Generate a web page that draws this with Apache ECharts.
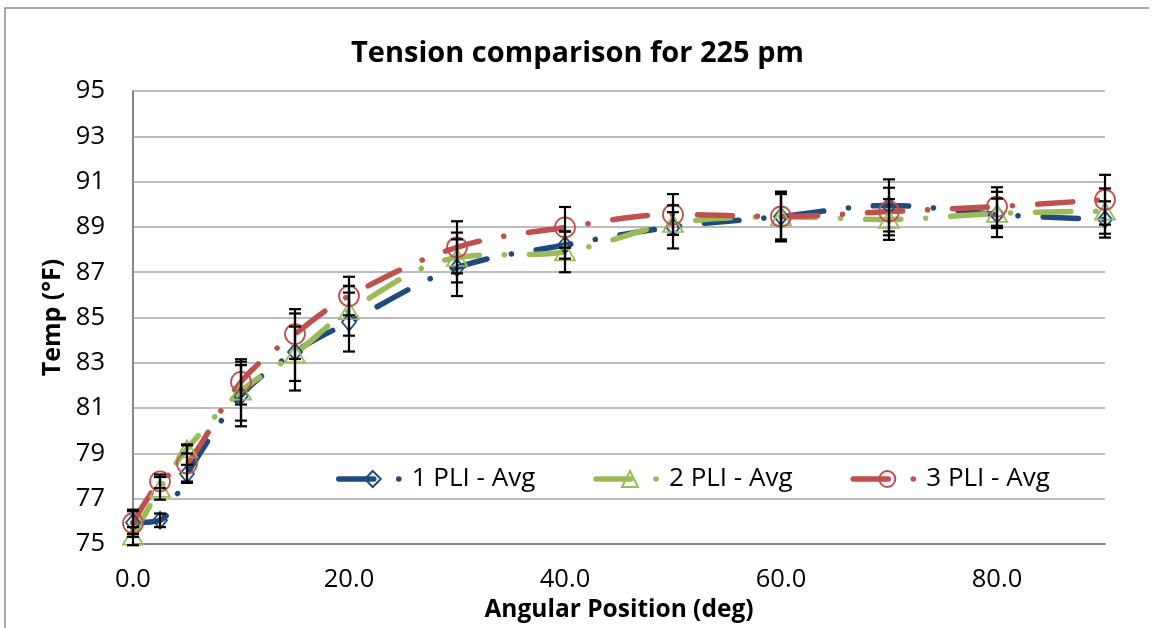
<!DOCTYPE html>
<html>
<head>
<meta charset="utf-8">
<title>Tension comparison for 225 pm</title>
<script src="https://cdn.jsdelivr.net/npm/echarts@6/dist/echarts.min.js"></script>
<style>
  html, body { margin: 0; padding: 0; background: #fff; }
  #chart { width: 1155px; height: 628px; }
</style>
</head>
<body>
<div id="chart"></div>
<script>
// Angular positions (deg) where temperature was sampled
const angles = [0, 2.5, 5, 10, 15, 20, 30, 40, 50, 60, 70, 80, 90];

// Average temperature (°F) per tension level
const pli1Avg = [75.95, 76.05, 78.1, 81.55, 83.48, 84.8, 87.2, 88.2, 89.0, 89.46, 89.95, 89.55, 89.33];
const pli2Avg = [75.35, 77.46, 79.2, 81.75, 83.4, 85.3, 87.65, 87.9, 89.15, 89.45, 89.33, 89.6, 89.7];
const pli3Avg = [75.92, 77.77, 78.56, 82.16, 84.27, 85.95, 88.1, 88.98, 89.55, 89.46, 89.68, 89.9, 90.2];

// Spread (± °F) shown as error bars
const pli1Err = [0.5, 0.3, 0.4, 1.35, 1.7, 1.3, 1.25, 0.6, 0.95, 1.05, 1.15, 1.0, 0.8];
const pli2Err = [0.4, 0.5, 0.2, 1.3, 1.2, 1.1, 1.1, 0.9, 0.5, 1.0, 0.9, 0.65, 1.0];
const pli3Err = [0.6, 0.3, 0.8, 1.0, 1.1, 0.85, 1.15, 0.9, 0.9, 1.1, 1.05, 0.85, 1.1];

const seriesNames = ['1 PLI - Avg', '2 PLI - Avg', '3 PLI - Avg'];
const colors = ['#1F4A7E', '#9BBB59', '#C0504D'];

const FONT = 'Open Sans';
const longDashDot = [35, 25, 0.1, 25];

function pairs(avg) {
  return angles.map((a, i) => [a, avg[i]]);
}
function errRows(avg, err) {
  return angles.map((a, i) => [a, avg[i] - err[i], avg[i] + err[i]]);
}

function lineSeries(name, avg, color, symbol, size) {
  return {
    name: name,
    type: 'line',
    data: pairs(avg),
    smooth: 0.35,
    color: color,
    symbol: symbol,
    symbolSize: size,
    z: 2,
    lineStyle: { color: color, width: 5.5, type: longDashDot, cap: 'round' },
    itemStyle: { color: 'rgba(255,255,255,0)', borderColor: color, borderWidth: 1.8 },
    emphasis: { disabled: true }
  };
}

function errorSeries(avg, err) {
  return {
    type: 'custom',
    data: errRows(avg, err),
    encode: { x: 0, y: [1, 2] },
    z: 3,
    silent: true,
    renderItem: function (params, api) {
      const x = api.value(0);
      const top = api.coord([x, api.value(2)]);
      const bot = api.coord([x, api.value(1)]);
      const hw = 6;
      const st = { stroke: '#000', lineWidth: 2.2 };
      return {
        type: 'group',
        children: [
          { type: 'line', shape: { x1: top[0], y1: top[1], x2: bot[0], y2: bot[1] }, style: st },
          { type: 'line', shape: { x1: top[0] - hw, y1: top[1], x2: top[0] + hw, y2: top[1] }, style: st },
          { type: 'line', shape: { x1: bot[0] - hw, y1: bot[1], x2: bot[0] + hw, y2: bot[1] }, style: st }
        ]
      };
    }
  };
}

const chart = echarts.init(document.getElementById('chart'), null, { renderer: 'canvas' });

chart.setOption({
  animation: false,
  backgroundColor: '#fff',
  title: {
    text: 'Tension comparison for 225 pm',
    left: 'center',
    top: 34,
    textStyle: { fontFamily: FONT, fontSize: 29, fontWeight: 'bold', color: '#000' }
  },
  grid: { left: 133, right: 50, top: 91, bottom: 82 },
  legend: {
    data: seriesNames,
    left: 275,
    top: 458,
    padding: [8, 55, 2, 61],
    itemWidth: 68,
    itemHeight: 20,
    itemGap: 58,
    backgroundColor: '#fff',
    textStyle: { fontFamily: FONT, fontSize: 26, color: '#000' },
    lineStyle: { width: 5.5, cap: 'round' }
  },
  xAxis: {
    type: 'value',
    min: 0,
    max: 90,
    interval: 20,
    name: 'Angular Position (deg)',
    nameLocation: 'middle',
    nameGap: 51,
    nameTextStyle: { fontFamily: FONT, fontSize: 24.5, fontWeight: 'bold', color: '#000' },
    axisLine: { show: true, lineStyle: { color: '#868686', width: 2 } },
    axisTick: { show: false },
    splitLine: { show: false },
    axisLabel: {
      margin: 23,
      showMaxLabel: false,
      fontFamily: FONT,
      fontSize: 25.5,
      color: '#000',
      formatter: v => v.toFixed(1)
    }
  },
  yAxis: {
    type: 'value',
    min: 75,
    max: 95,
    interval: 2,
    name: 'Temp (°F)',
    nameLocation: 'middle',
    nameGap: 62,
    nameTextStyle: { fontFamily: FONT, fontSize: 25, fontWeight: 'bold', color: '#000' },
    axisLine: { show: true, lineStyle: { color: '#868686', width: 2 } },
    axisTick: { show: false },
    splitLine: { show: true, lineStyle: { color: '#A6A6A6', width: 1.5 } },
    axisLabel: { margin: 28, fontFamily: FONT, fontSize: 25.5, color: '#000' }
  },
  graphic: [
    {
      type: 'polyline',
      silent: true,
      shape: { points: [[5, 640], [5, 8], [1149, 8]] },
      style: { stroke: '#8C8C8C', lineWidth: 1.5, fill: null }
    }
  ],
  series: [
    lineSeries(seriesNames[0], pli1Avg, colors[0], 'diamond', [14, 17]),
    lineSeries(seriesNames[1], pli2Avg, colors[1], 'triangle', [20, 17]),
    lineSeries(seriesNames[2], pli3Avg, colors[2], 'circle', 20),
    errorSeries(pli1Avg, pli1Err),
    errorSeries(pli2Avg, pli2Err),
    errorSeries(pli3Avg, pli3Err)
  ]
});
</script>
</body>
</html>
